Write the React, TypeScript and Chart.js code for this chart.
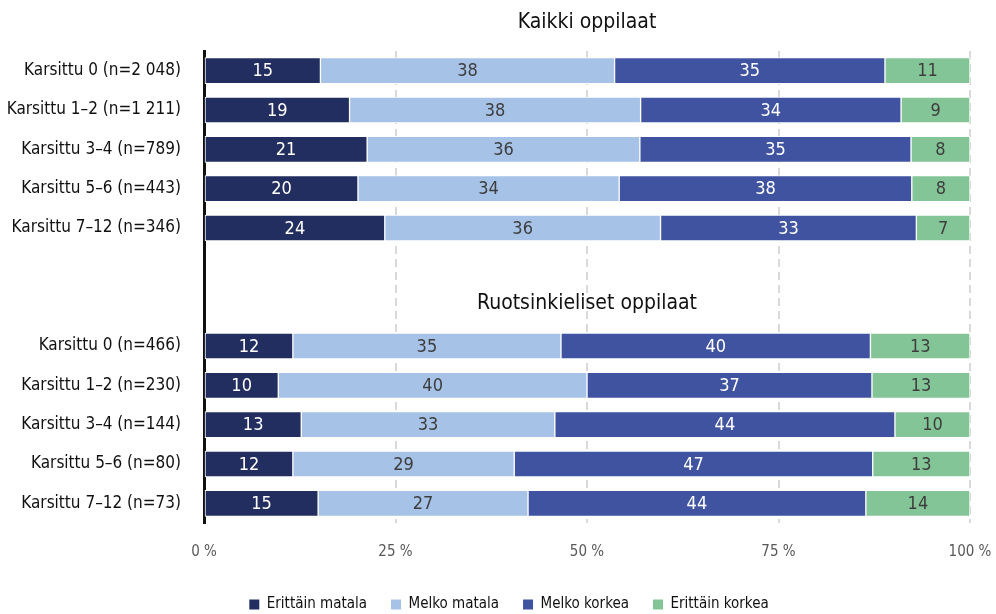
import React, { useEffect, useRef } from "react";
import { Chart, registerables } from "chart.js";

Chart.register(...registerables);

const groupTitles = ["Kaikki oppilaat", "Ruotsinkieliset oppilaat"];

const categories = [
  "Karsittu 0 (n=2 048)",
  "Karsittu 1–2 (n=1 211)",
  "Karsittu 3–4 (n=789)",
  "Karsittu 5–6 (n=443)",
  "Karsittu 7–12 (n=346)",
  "",
  "",
  "Karsittu 0 (n=466)",
  "Karsittu 1–2 (n=230)",
  "Karsittu 3–4 (n=144)",
  "Karsittu 5–6 (n=80)",
  "Karsittu 7–12 (n=73)",
];

const seriesNames = ["Erittäin matala", "Melko matala", "Melko korkea", "Erittäin korkea"];

const erittainMatala = [15.2, 19.0, 21.3, 20.1, 23.6, null, null, 11.6, 9.7, 12.7, 11.6, 14.9];
const melkoMatala = [38.4, 38.0, 35.6, 34.1, 36.0, null, null, 35.0, 40.3, 33.1, 28.9, 27.4];
const melkoKorkea = [35.3, 34.0, 35.4, 38.2, 33.4, null, null, 40.4, 37.2, 44.4, 46.8, 44.1];
const erittainKorkea = [11.1, 9.0, 7.7, 7.6, 7.0, null, null, 13.0, 12.8, 9.8, 12.7, 13.6];

const xTicks = [0, 25, 50, 75, 100];

const FONT = "'Liberation Sans Narrow', 'DejaVu Sans Condensed', 'Roboto', sans-serif";

const colors = ["#222e5f", "#a6c2e7", "#3f53a1", "#84c597"];
const labelColors = ["#ffffff", "#3d3d3d", "#ffffff", "#3d3d3d"];

const valueLabelPlugin = {
  id: "valueLabels",
  afterDatasetsDraw(chart: any) {
    const ctx = chart.ctx;
    ctx.save();
    ctx.font = `18px ${FONT}`;
    ctx.textAlign = "center";
    ctx.textBaseline = "middle";
    chart.data.datasets.forEach((ds: any, di: number) => {
      const meta = chart.getDatasetMeta(di);
      if (meta.hidden) return;
      meta.data.forEach((el: any, i: number) => {
        const v = ds.data[i];
        if (v === null || v === undefined) return;
        const p = el.getCenterPoint();
        ctx.fillStyle = labelColors[di];
        ctx.fillText(String(Math.round(v)), p.x, p.y + 1);
      });
    });
    ctx.restore();
  },
};

const headerPlugin = {
  id: "groupHeaders",
  afterLayout(chart: any) {
    if (chart.legend) {
      chart.legend.top += 8;
      chart.legend.bottom += 8;
      chart.legend.left += 24;
      chart.legend.right += 24;
    }
  },
  afterDraw(chart: any) {
    const ctx = chart.ctx;
    const area = chart.chartArea;
    const yScale = chart.scales.y;
    const cx = (area.left + area.right) / 2;
    ctx.save();
    ctx.font = `21px ${FONT}`;
    ctx.fillStyle = "#111111";
    ctx.textAlign = "center";
    ctx.textBaseline = "middle";
    ctx.fillText(groupTitles[0], cx, area.top - 28);
    ctx.fillText(groupTitles[1], cx, yScale.getPixelForValue(6) - 3);
    ctx.restore();
  },
};

export default function App() {
  const canvasRef = useRef<HTMLCanvasElement | null>(null);

  useEffect(() => {
    if (!canvasRef.current) return;
    const seriesData = [erittainMatala, melkoMatala, melkoKorkea, erittainKorkea];
    const chart = new Chart(canvasRef.current, {
      type: "bar",
      data: {
        labels: categories,
        datasets: seriesData.map((d, i) => ({
          label: seriesNames[i],
          data: d,
          backgroundColor: colors[i],
          borderColor: "#ffffff",
          borderWidth: 1,
          borderSkipped: false,
          barThickness: 26,
        })),
      },
      options: {
        indexAxis: "y",
        responsive: false,
        animation: false,
        layout: { padding: { top: 51, right: 26, left: 0, bottom: 0 } },
        plugins: {
          legend: {
            position: "bottom",
            labels: {
              font: { family: FONT, size: 15 },
              color: "#111111",
              boxWidth: 10,
              boxHeight: 10,
              padding: 24,
              generateLabels(chart: any) {
                return chart.data.datasets.map((ds: any, i: number) => ({
                  text: ds.label,
                  fillStyle: colors[i],
                  strokeStyle: colors[i],
                  lineWidth: 0,
                  hidden: false,
                  datasetIndex: i,
                  fontColor: "#111111",
                }));
              },
            },
          },
          tooltip: { enabled: false },
        },
        scales: {
          x: {
            stacked: true,
            min: 0,
            max: 100,
            afterBuildTicks(scale: any) {
              scale.ticks = xTicks.map((v) => ({ value: v }));
            },
            afterFit(scale: any) {
              scale.height = 42;
              scale.paddingLeft = 0;
              scale.paddingRight = 0;
            },
            ticks: {
              padding: 20,
              color: "#595959",
              font: { family: FONT, size: 15 },
              callback: (v: any) => `${v} %`,
            },
            grid: {
              color: "#d9d9d9",
              lineWidth: 2,
              drawTicks: false,
            },
            border: { display: false, dash: [8, 5] },
          },
          y: {
            stacked: true,
            afterFit(scale: any) {
              scale.width = 204;
              scale.paddingTop = 0;
              scale.paddingBottom = 0;
            },
            ticks: {
              padding: 23,
              color: "#111111",
              font: { family: FONT, size: 17 },
              autoSkip: false,
            },
            grid: { display: false, drawTicks: false },
            border: { display: true, color: "#111111", width: 3 },
          },
        },
      },
      plugins: [valueLabelPlugin, headerPlugin],
    } as any);
    return () => chart.destroy();
  }, []);

  return (
    <div style={{ position: "fixed", left: 0, top: 0, width: 996, height: 614, background: "#ffffff" }}>
      <canvas ref={canvasRef} width={996} height={614} />
    </div>
  );
}
